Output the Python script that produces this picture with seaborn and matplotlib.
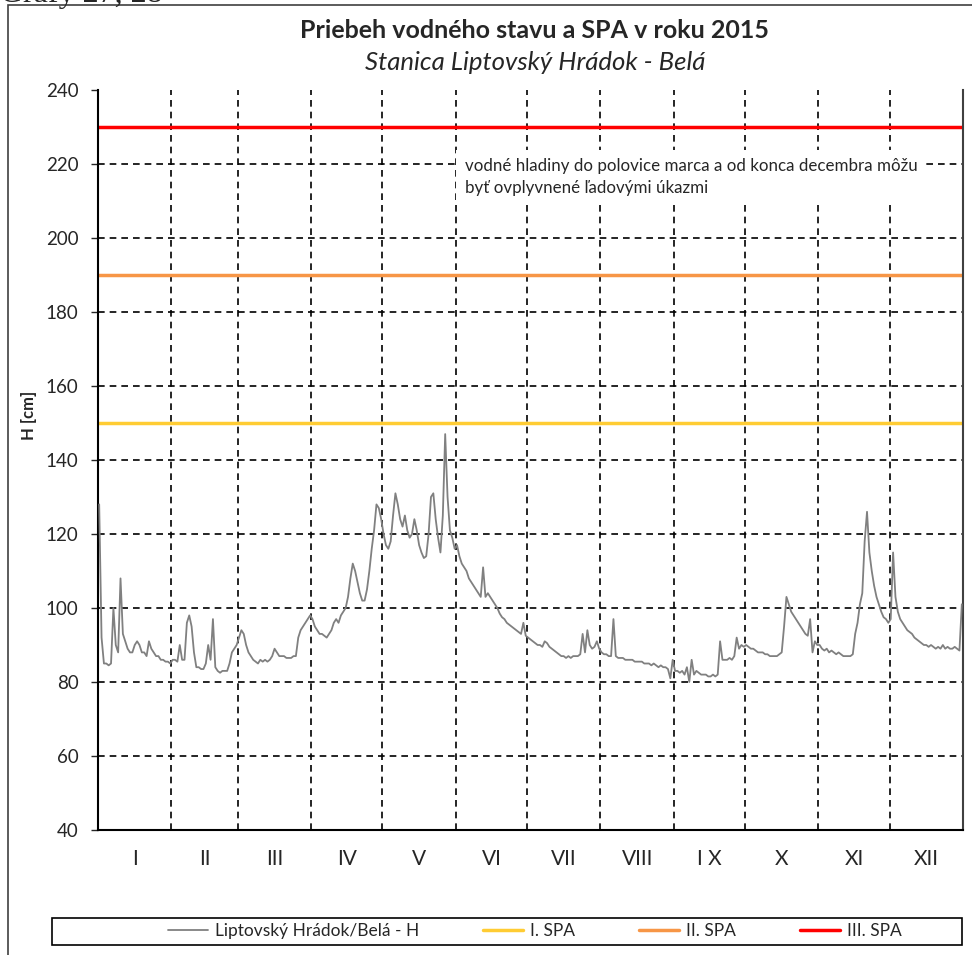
import numpy as np
import pandas as pd
import seaborn as sns
import matplotlib.pyplot as plt
from matplotlib.patches import Rectangle
from matplotlib.lines import Line2D

# daily water level H [cm], one list per month
jan = [128, 92, 85, 85, 84.5, 85, 100, 90, 88, 108, 93, 91, 89, 88, 88, 90, 91, 90, 88, 88,
       87, 91, 89, 88, 87, 87, 86, 86, 85.5, 85.5, 85]
feb = [86, 86, 85.5, 90, 86, 86, 96, 98, 95, 88, 84, 84, 83.5, 83.5, 85, 90, 86, 97, 84, 83,
       82.5, 83, 83, 83, 85, 88, 89, 90]
mar = [92, 94, 93, 90, 88, 87, 86, 85.5, 85, 86, 85.5, 86, 85.5, 86, 87, 89, 88, 87, 87, 87,
       86.5, 86.5, 86.5, 87, 87, 92, 94, 95, 96, 97, 98]
apr = [97, 95, 94, 93, 93, 92.5, 92, 93, 94, 96, 97, 96, 98, 99, 100, 103, 108, 112, 110, 107,
       104, 102, 102, 105, 110, 116, 121, 128, 127, 124]
may = [120, 117, 116, 118, 125, 131, 128, 124, 122, 125, 121, 119, 120, 124, 121, 117, 115,
       113.5, 114, 120, 130, 131, 124, 119, 115, 125, 147, 130, 121, 119, 116]
jun = [117, 114, 112, 111, 110, 108, 107, 106, 105, 104, 103, 111, 103, 104, 103, 102, 101,
       100, 98.5, 97.5, 97, 96, 95.5, 95, 94.5, 94, 93.5, 93, 96, 92.5]
jul = [92, 91.5, 91, 90.5, 90, 90, 89.5, 91, 90.5, 89.5, 89, 88.5, 88, 87.5, 87, 87, 86.5, 87,
       86.5, 87, 87, 87, 87.5, 93, 88, 94, 90, 89, 89.5, 91, 89]
aug = [88, 87.5, 87.5, 87, 87, 97, 87, 86.5, 86.5, 86.5, 86, 86, 86, 86, 85.5, 85.5, 85.5,
       85.5, 85, 85, 85, 84.5, 85, 84.5, 84, 84.5, 84, 84, 83.5, 81, 86]
sep = [83, 83, 82.5, 83, 82, 84, 80, 86, 82, 83, 82.5, 82, 82, 82, 81.5, 81.5, 82, 81.5, 82,
       91, 86, 86, 86, 86.5, 86, 87, 92, 89, 90, 89.5]
okt = [90, 89.5, 89, 89, 88.5, 88, 88, 88, 87.5, 87.5, 87, 87, 87, 87, 87.5, 88, 95, 103, 101,
       99, 98, 97, 96, 95, 94, 93, 92.5, 97, 88, 91, 90]
nov = [90, 89, 88.5, 89, 88, 88.5, 88, 87.5, 88, 87.5, 87, 87, 87, 87, 87.5, 93, 96, 101, 104,
       118, 126, 115, 110, 106, 103, 101, 99, 97.5, 97, 96]
dec = [97, 115, 103, 99, 97, 96, 95, 94, 93.5, 93, 92, 91.5, 91, 90.5, 90, 90, 89.5, 90, 89.5,
       89, 89.5, 89, 90, 89, 89.5, 89, 89, 89.5, 89, 88.5, 101]

months = ['I', 'II', 'III', 'IV', 'V', 'VI', 'VII', 'VIII', 'I X', 'X', 'XI', 'XII']
spa_levels = [150, 190, 230]
spa_labels = ['I. SPA', 'II. SPA', 'III. SPA']
spa_colors = ['#FFCC33', '#F79646', '#FF0000']
series_label = 'Liptovský Hrádok/Belá - H'

month_data = [jan, feb, mar, apr, may, jun, jul, aug, sep, okt, nov, dec]
month_len = [len(m) for m in month_data]
bounds = np.cumsum([0] + month_len)
H = [v for m in month_data for v in m]
df = pd.DataFrame({'day': np.arange(len(H)) + 0.5, 'H': H})

sns.set_style('white')
plt.rcParams['font.family'] = ['Lato', 'DejaVu Sans']

fig = plt.figure(figsize=(9.72, 9.55), dpi=100)
W, Hpx = 972, 955
ax = fig.add_axes([98 / W, 1 - 830 / Hpx, 865 / W, 740 / Hpx])

# outer frame and the cut-off caption above it
fig.patches.append(Rectangle((8 / W, -0.1), 1.2, 1 - 5 / Hpx + 0.1, transform=fig.transFigure,
                             fill=False, edgecolor='#404040', linewidth=1.2))
fig.text(0 / W, 1 - 2 / Hpx, 'Grafy 27, 28', family='Liberation Serif', fontsize=23,
         ha='left', va='baseline')

# gridlines
ax.set_ylim(40, 240)
ax.set_yticks(range(40, 241, 20))
ax.set_xlim(0, bounds[-1])
for b in bounds[1:-1]:
    ax.axvline(b, color='black', linestyle=(0, (4, 3)), linewidth=1.2, zorder=1)
for yv in range(60, 240, 20):
    ax.axhline(yv, color='black', linestyle=(0, (4, 3)), linewidth=1.2, zorder=1)

for lvl, lab, col in zip(spa_levels, spa_labels, spa_colors):
    ax.axhline(lvl, color=col, linewidth=2.5, label=lab, zorder=2)

sns.lineplot(data=df, x='day', y='H', ax=ax, color='#808080', linewidth=1.3,
             label=series_label, zorder=3, legend=False)

ax.set_xticks((bounds[:-1] + bounds[1:]) / 2)
ax.set_xticklabels(months, fontsize=15)
ax.tick_params(axis='x', length=0, pad=14)
ax.tick_params(axis='y', length=5, width=1, direction='out', labelsize=13.5, pad=9, left=True)
ax.set_xlabel('')
ax.set_ylabel('H [cm]', fontsize=12, fontweight='bold', labelpad=14)
ax.yaxis.set_label_coords(-0.07, 0.56)

for side in ['left', 'bottom']:
    ax.spines[side].set_color('black')
    ax.spines[side].set_linewidth(1.5)
ax.spines['right'].set_color('#404040')
ax.spines['right'].set_linewidth(1.5)
ax.spines['top'].set_visible(False)

ax.text(0.424, 0.908, 'vodné hladiny do polovice marca a od konca decembra môžu\nbyť ovplyvnené ľadovými úkazmi',
        transform=ax.transAxes, fontsize=12.2, ha='left', va='top', linespacing=1.45, zorder=4,
        bbox=dict(facecolor='white', edgecolor='none', pad=6))

fig.text(535 / W, 1 - 30 / Hpx, 'Priebeh vodného stavu a SPA v roku 2015', fontsize=18,
         fontweight='bold', ha='center', va='center')
fig.text(535 / W, 1 - 62 / Hpx, 'Stanica Liptovský Hrádok - Belá', fontsize=18.5,
         style='italic', ha='center', va='center')

# legend
handles = [Line2D([], [], color='#808080', linewidth=1.3)] + \
          [Line2D([], [], color=c, linewidth=2.5) for c in spa_colors]
labels = [series_label] + spa_labels
fig.legend(handles, labels, loc='center', bbox_to_anchor=(535 / W, 1 - 931 / Hpx), ncol=4,
           frameon=False, fontsize=12.5, handlelength=2.3, handletextpad=0.4, columnspacing=3.7)
fig.patches.append(Rectangle((52 / W, 1 - 945 / Hpx), 910 / W, 27 / Hpx, transform=fig.transFigure,
                             fill=False, edgecolor='black', linewidth=1.2))

plt.savefig('out.png', dpi=100)
